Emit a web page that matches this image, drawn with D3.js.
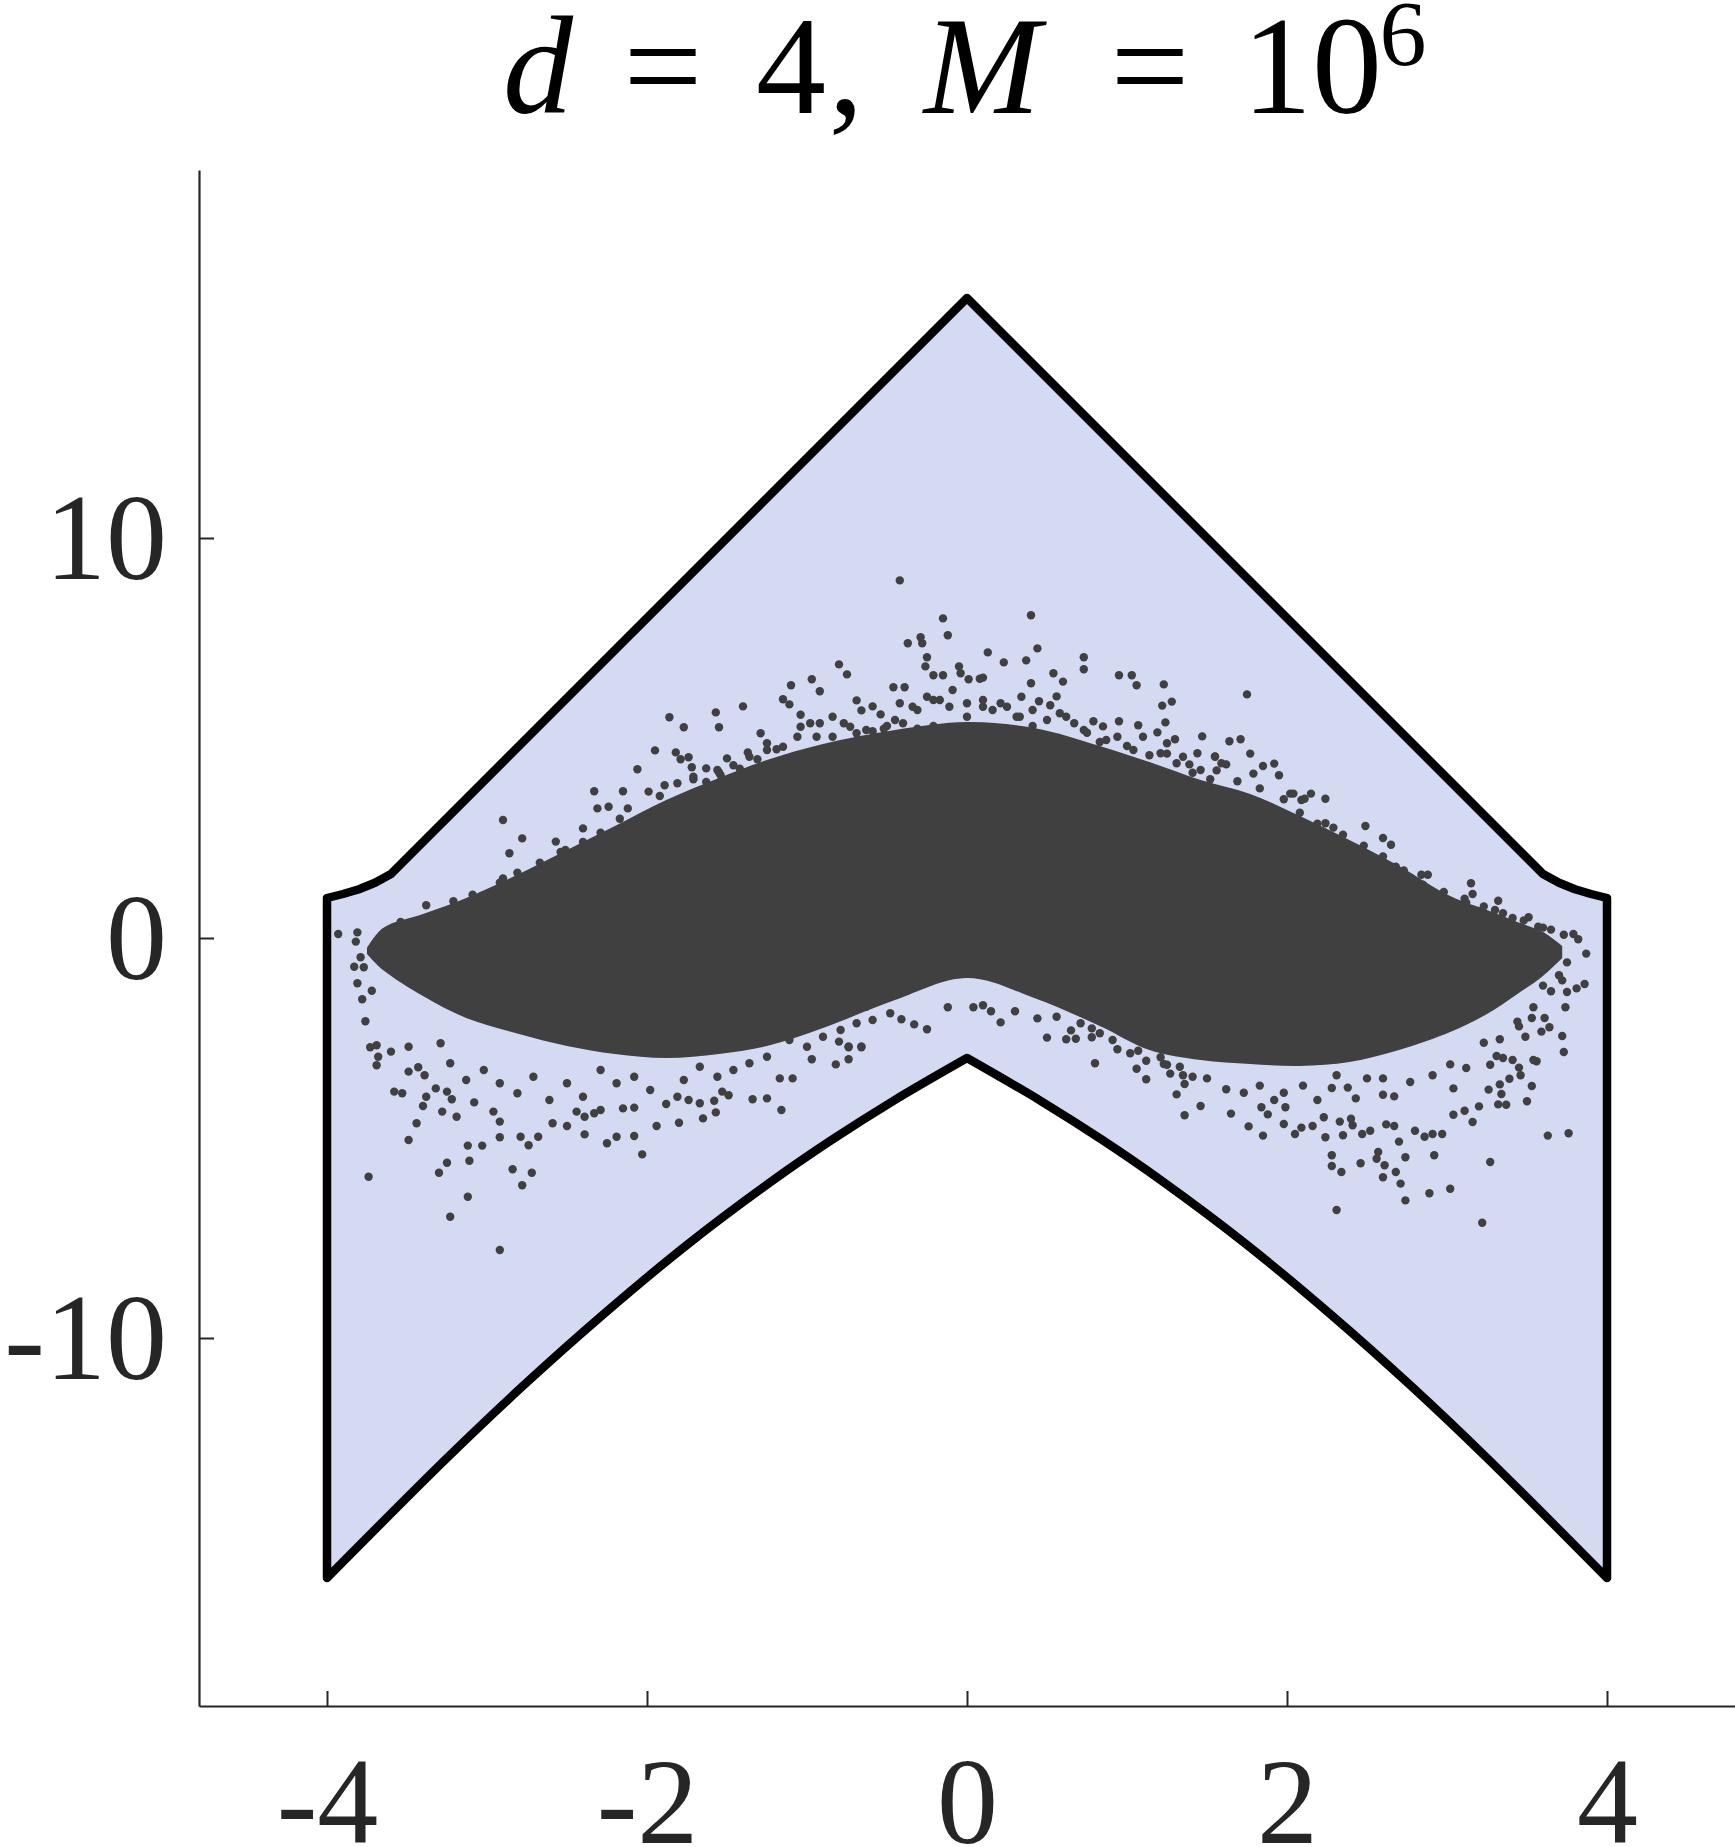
<!DOCTYPE html>
<html>
<head>
<meta charset="utf-8">
<script src="https://cdn.jsdelivr.net/npm/d3@7"></script>
<style>
  html, body { margin: 0; padding: 0; background: #fff; }
  svg { display: block; }
  .lbl { font-family: "Liberation Serif", "Tinos", "Times New Roman", "DejaVu Serif", serif; }
</style>
</head>
<body>
<svg id="chart"></svg>
<script>
// ---- data ----
// outer region: upper edge (left to right) and lower edge (left to right)
const upperX = [-4, -3.9, -3.8, -3.7, -3.6, 0, 3.6, 3.7, 3.8, 3.9, 4];
const upperY = [1.0, 1.1, 1.22, 1.38, 1.6, 16, 1.6, 1.38, 1.22, 1.1, 1.0];
const lowerX = [-4, -3.25, -2.77, -2.27, -1.74, -1.21, -0.85, -0.46, 0, 0.46, 0.85, 1.21, 1.74, 2.27, 2.77, 3.25, 4];
const lowerY = [-16, -13.0, -11.18, -9.4, -7.64, -6.05, -5.06, -4.07, -3.0, -4.07, -5.06, -6.05, -7.64, -9.4, -11.18, -13.0, -16];

// dense core of the sample cloud
const coreX     = [-3.75, -3.65, -3.4, -3.13, -2.8, -2.5, -2.2, -1.88, -1.55, -1.25, -0.9, -0.45, 0, 0.42, 0.83, 1.14, 1.46, 1.77, 2.08, 2.39, 2.7, 3.02, 3.25, 3.44, 3.6, 3.72];
const coreUpper = [-0.25, 0.25, 0.6, 1.0, 1.6, 2.2, 2.8, 3.45, 4.0, 4.45, 4.85, 5.2, 5.4, 5.25, 4.8, 4.4, 3.95, 3.6, 3.05, 2.45, 1.8, 1.05, 0.7, 0.4, 0.15, -0.2];
const coreLower = [-0.4, -0.8, -1.45, -2.0, -2.4, -2.7, -2.9, -3.0, -2.9, -2.7, -2.25, -1.55, -1.0, -1.5, -2.2, -2.8, -3.05, -3.15, -3.2, -3.1, -2.8, -2.35, -1.9, -1.4, -0.95, -0.5];

// individual samples around the core, [x, y]
const dotsLeft = [
  [-3.93,0.1],[-2.90,2.95],[-2.78,2.49],[-2.86,2.12],[-2.33,3.67],[-2.15,3.67],[-2.31,3.24],[-2.24,3.28],[-2.12,3.24],[-2.06,4.22],
  [-1.99,3.66],[-2.0,3.05],[-2.40,2.74],[-2.57,2.41],[-2.51,2.2],[-2.90,1.49],[-3.03,1.06],[-3.81,0.14],[-3.82,-0.09],[-3.79,-0.48],
  [-3.83,-0.72],[-3.77,-0.73],[-3.81,-1.13],[-3.78,-1.53],[-3.76,-2.08],[-3.72,-1.32],[-3.69,-2.68],[-3.73,-2.73],[-3.68,-2.97],[-3.69,-3.18],
  [-3.60,-2.84],[-3.49,-2.72],[-3.49,-3.34],[-3.43,-3.23],[-3.39,-3.43],[-3.58,-3.84],[-3.53,-3.88],[-3.32,-3.76],[-3.25,-3.84],[-3.38,-3.97],
  [-3.40,-4.2],[-3.28,-4.34],[-3.19,-4.47],[-3.22,-4.03],[-3.08,-4.11],[-2.96,-4.34],[-2.92,-4.59],[-3.44,-4.63],[-3.49,-5.05],[-3.12,-5.19],
  [-3.03,-5.19],[-3.25,-5.62],[-3.11,-5.57],[-3.30,-5.87],[-3.74,-5.97],[-3.12,-6.47],[-3.23,-6.97],[-2.92,-7.8],[-2.84,-5.78],[-2.72,-5.87],
  [-2.78,-6.18],[-2.92,-4.98],[-2.79,-4.97],[-2.68,-4.97],[-2.74,-5.18],[-2.59,-4.63],[-2.50,-4.7],[-2.39,-4.91],[-2.25,-5.13],[-2.19,-4.97],
  [-2.08,-4.95],[-2.03,-5.41],[-1.94,-4.7],[-1.80,-4.62],[-1.88,-4.15],[-1.81,-3.97],[-1.74,-4.05],[-1.67,-4.13],[-1.65,-4.51],[-1.57,-4.36],
  [-1.58,-4.07],[-1.34,-4.03],[-1.25,-4.01],[-1.16,-4.3],[-1.17,-3.51],[-1.09,-3.51],[-1.49,-3.93],[-1.53,-3.84],[-2.29,-4.3],[-2.15,-4.26],
  [-2.08,-4.24],[-2.39,-4.47],[-2.44,-4.34],[-2.33,-4.38],
  [-3.29,-2.63],[-3.23,-3.13],[-3.13,-3.55],[-3.02,-3.3],[-2.92,-3.63],[-2.81,-3.88],[-2.71,-3.47],[-2.61,-4.05],[-2.50,-3.63],[-2.40,-3.97],
  [-2.29,-3.3],[-2.19,-3.63],[-2.08,-3.47],[-1.98,-3.8],[-1.77,-3.55],[-1.67,-3.22],[-1.56,-3.47],[-1.46,-3.3],[-1.36,-3.13],[-1.25,-2.97],
  [-3.54,0.4],[-3.38,0.82],[-3.21,0.92],[-3.09,1.08],[-2.92,1.38],[-2.81,1.63],[-2.67,1.88],[-2.54,2.15],[-2.40,2.4],[-2.29,2.63],
  [-2.17,2.98],[-2.08,2.82],[-1.92,3.55],[-1.81,3.87],[-1.71,4.03],[-1.56,4.2],[-1.46,4.32],[-1.36,4.53],[-1.19,4.72],[-1.63,3.9],
  [-1.86,5.52],[-1.77,5.27],[-1.57,5.64],[-1.55,5.27],[-1.40,5.79],[-1.95,4.69],[-1.82,4.64],[-1.74,4.52],[-1.79,4.47],[-1.50,4.49],
  [-1.37,4.64],[-1.72,4.27],[-1.63,4.24],[-1.71,3.97],[-1.55,4.14],[-1.89,3.82],
  [-0.97,-3.03],[-0.82,-3.16],[-0.74,-3.03],[-0.66,-2.73],[-0.74,-2.73],[-0.80,-2.59],[-1.11,-2.55],[-1.00,-2.72],[-0.90,-2.47],[-0.79,-2.3],
  [-0.69,-2.13],[-0.59,-2.05],[-0.48,-1.88],[-1.04,-2.05],[-0.92,-2.05],[-0.63,-1.72]
];

const dotsCenter = [
  [-0.42,8.94],[-0.15,7.99],[-0.12,7.57],[0.40,8.07],[0.44,7.24],[-0.37,7.37],[-0.29,7.52],[-0.28,7.37],[-0.25,7.02],[-0.26,6.79],
  [-0.21,6.57],[-0.15,6.57],[-0.05,6.79],[-0.04,6.62],[0.01,6.47],[0.13,7.14],[0.23,6.89],[0.37,6.94],[0.40,6.37],[0.73,7.02],
  [0.73,6.72],[0.54,6.62],[0.60,6.41],[0.95,6.57],[1.03,6.57],[1.06,6.32],[1.23,6.34],[1.22,5.81],[1.28,5.91],[1.24,5.39],
  [1.47,5.04],[-0.80,6.84],[-0.75,6.59],[-0.97,6.47],[-0.92,6.17],[-1.10,6.32],[-1.15,5.97],[-1.11,5.84],[-1.29,5.12],[-0.59,5.79],
  [-0.69,5.94],[-0.66,5.69],[-0.46,6.27],[-0.39,6.27],[-0.42,5.87],[-0.45,5.45],[-0.54,5.59],[0.08,6.48],[0.10,6.51],[0.34,6.03],
  [0.45,5.92],[0.52,5.82],[0.56,6.04],[0.79,5.42],[0.85,5.29],[0.95,5.42],[1.07,5.32],[1.19,5.14],[1.30,4.97],[1.44,4.62],[1.55,4.53],
  [0.21,-2.11],[-0.25,-2.28],[-0.12,-1.73],[0.50,-2.49],[0.62,-2.53],[0.68,-2.52],[0.15,-1.83],[0.30,-1.83],[0.04,-1.73],[0.10,-1.68],
  [-0.33,-2.16],[-0.41,-2.03],[-0.74,-2.71],[-0.66,-2.71],[0.44,-2.01],[0.65,-2.31],[0.78,-2.26],
  [-1.25,4.87],[-1.04,5.28],[-0.94,5.03],[-0.84,5.53],[-0.73,5.28],[-0.63,5.2],[-0.52,5.23],[-0.31,5.7],[-0.21,5.95],[-0.11,5.78],
  [0.0,5.53],[0.10,5.78],[0.21,5.87],[0.31,5.53],[0.41,5.7],[0.62,5.53],[0.73,5.2],[0.94,5.03],[1.04,4.7],[1.25,4.87],
  [1.35,4.53],[1.46,4.2],[1.14,4.57],[0.83,4.9],[-0.21,5.3],[-0.31,5.23],
  [-1.04,5.58],[-0.98,5.37],[-0.92,5.37],[-1.06,5.03],[-1.15,4.78],[-1.25,4.7],[-1.31,4.47],[-1.42,4.23],[-1.54,4.07],[-0.84,5.03],
  [-0.77,5.37],[-0.69,5.12],[-0.59,5.17],[-0.50,5.3],[-0.40,5.37],[-0.34,5.78],[-0.25,6.03],[-0.17,5.95],[-0.09,6.2],[0.0,5.87],
  [0.10,5.95],[0.16,5.7],[0.25,5.78],[0.33,5.53],[0.41,5.3],[0.50,5.45],[0.58,5.62],[0.67,5.37],[0.75,5.13],[0.87,4.95],
  [1.00,4.8],[1.10,5.03],[1.21,4.62],[1.31,4.37],[1.41,4.13],[1.52,3.97],
  [0.80,-3.13],[1.06,-3.27],[1.12,-3.53],[1.36,-3.65],[0.94,-2.78],[1.07,-2.82],[1.25,-3.17],[0.78,-2.48],[0.91,-2.55],[1.02,-2.88],
  [1.12,-3.07],[1.23,-3.15],[1.33,-3.22],[1.41,-3.47],[0.83,-2.38],[0.71,-2.13],[0.56,-1.97]
];

const dotsRight = [
  [1.75,6.09],
  [1.64,4.92],[1.71,4.97],[1.77,4.61],[1.55,4.54],[1.59,4.37],[1.62,4.34],[1.85,4.30],[1.92,4.36],[1.95,4.07],[1.79,4.11],
  [2.02,3.61],[2.04,3.61],[2.15,3.61],[2.24,3.48],[2.11,3.48],[2.09,3.45],[2.24,2.87],[2.29,2.76],[2.49,2.8],[2.60,2.5],
  [2.65,2.33],[2.68,1.78],[2.84,1.58],[2.88,1.58],[3.15,1.37],[3.16,1.10],[3.11,0.98],[3.32,0.93],[3.30,0.70],[3.51,0.52],
  [3.41,0.50],[3.57,0.28],[3.65,0.21],[3.79,0.10],[3.82,-0.03],[3.87,-0.39],[3.75,-0.61],[3.70,-0.93],[3.72,-1.06],[3.81,-1.26],
  [3.86,-1.15],[3.75,-1.35],[3.74,-1.73],[3.65,-1.33],[3.72,-2.45],[3.73,-2.85],[3.64,-2.23],[3.59,-2.34],[3.56,-3.08],[3.53,-3.70],
  [3.50,-4.08],[3.61,-2.0],[3.53,-2.0],[3.45,-2.21],[3.49,-2.47],[3.27,-5.6],[3.63,-4.94],[3.76,-4.88],[3.22,-7.12],[3.02,-6.27],
  [2.89,-6.38],[2.74,-6.56],[2.31,-6.8],[2.28,-5.43],[2.28,-5.7],[2.34,-5.85],[2.46,-5.63],[2.57,-5.35],[2.56,-5.52],[2.61,-5.68],
  [2.60,-5.98],[2.68,-5.85],[2.74,-5.48],[2.71,-6.14],[2.92,-5.43],[2.97,-4.9],[2.91,-4.9],[2.86,-4.97],[2.80,-4.82],[2.70,-5.09],
  [2.67,-4.70],[2.62,-4.66],[2.52,-4.82],[2.47,-4.9],[2.35,-4.93],[2.33,-4.59],[2.40,-4.52],[2.41,-4.68],[2.24,-4.98],[2.16,-4.70],
  [2.09,-4.74],[2.05,-4.9],[1.98,-4.65],[1.85,-4.94],[1.76,-4.71],[1.65,-4.39],[1.46,-4.2],[1.36,-4.43],[1.31,-3.91],[1.27,-3.39],
  [1.88,-4.41],[1.84,-4.23],[1.92,-4.05],[1.99,-4.23],[2.23,-4.48],[2.28,-3.75],[2.38,-3.74],[2.43,-4.01],[2.60,-3.92],[2.67,-3.96],
  [3.04,-3.76],[3.16,-4.6],[3.20,-4.21],[3.11,-4.32],[3.04,-4.42],[3.32,-4.16],[3.37,-4.17],[3.34,-3.9],[3.26,-3.79],[3.33,-3.66],
  [3.39,-3.52],[3.46,-3.43],[3.54,-3.05],[3.45,-3.24],[3.41,-3.05],[3.35,-3.0],[3.31,-2.95],[3.27,-3.17],
  [1.21,-2.98],[1.35,-3.43],[1.50,-3.51],[1.62,-3.78],[1.73,-3.87],[1.83,-3.69],[1.98,-3.87],[2.10,-3.69],[2.19,-4.05],[2.31,-3.43],
  [2.50,-3.51],[2.60,-3.51],[2.77,-3.6],[2.91,-3.43],[3.02,-3.16],[3.12,-3.25],[3.23,-2.62],[3.33,-2.53],[3.44,-2.09],[3.54,-1.73],[3.60,-1.19],
  [1.25,4.61],[1.39,4.34],[1.56,4.19],[1.69,3.92],[1.83,3.74],[1.98,3.47],[2.08,3.13],[2.19,2.86],[2.35,2.58],[2.48,2.31],
  [2.60,2.04],[2.73,1.69],[2.85,1.33],[2.98,1.15],[3.12,0.88],[3.23,0.79],[3.35,0.62],[3.48,0.44],[3.60,0.26],[3.73,0.08]
];

const xTicks = [-4, -2, 0, 2, 4];
const yTicks = [-10, 0, 10];

// ---- layout ----
const width = 1735, height = 1847;
const fillColor = "#d5daf3";
const dotColor = "#404040";
const axisColor = "#262626";

const svg = d3.select("#chart").attr("width", width).attr("height", height);
svg.append("rect").attr("width", width).attr("height", height).attr("fill", "#fff");

const x = d3.scaleLinear().domain([-4.8, 4.8]).range([199, 1735]);
const y = d3.scaleLinear().domain([-19.2, 19.2]).range([1706, 170]);

// region outline: straight upper edge, smooth lower edge on each side of the apex
const straight = d3.line().x(d => x(d[0])).y(d => y(d[1]));
const smooth = d3.line().x(d => x(d[0])).y(d => y(d[1])).curve(d3.curveCatmullRom);

const upperPts = upperX.map((v, i) => [v, upperY[i]]);
const lowerPts = lowerX.map((v, i) => [v, lowerY[i]]);
const apex = lowerX.indexOf(0);
const lowerRight = lowerPts.slice(apex).reverse();     // from x=4 back to the apex
const lowerLeft = lowerPts.slice(0, apex + 1).reverse(); // from the apex back to x=-4

const regionPath = straight(upperPts)
  + smooth(lowerRight).replace(/^M/, "L")
  + smooth(lowerLeft).replace(/^M/, "L")
  + "Z";

svg.append("path")
  .attr("d", regionPath)
  .attr("fill", fillColor)
  .attr("stroke", "none");

// dense core of the cloud
const coreArea = d3.area()
  .x(i => x(coreX[i]))
  .y0(i => y(coreLower[i]))
  .y1(i => y(coreUpper[i]))
  .curve(d3.curveCatmullRom);

svg.append("path")
  .attr("d", coreArea(d3.range(coreX.length)))
  .attr("fill", dotColor);

// loose samples
const allDots = dotsLeft.concat(dotsCenter, dotsRight);
svg.append("g")
  .selectAll("circle")
  .data(allDots)
  .join("circle")
  .attr("cx", d => x(d[0]))
  .attr("cy", d => y(d[1]))
  .attr("r", 4.2)
  .attr("fill", dotColor);

// outline on top
svg.append("path")
  .attr("d", regionPath)
  .attr("fill", "none")
  .attr("stroke", "#000")
  .attr("stroke-width", 8.5)
  .attr("stroke-linejoin", "round");

// ---- axes (ticks point inward) ----
const yAxis = d3.axisLeft(y)
  .tickValues(yTicks)
  .tickSizeInner(-15)
  .tickSizeOuter(0)
  .tickPadding(32)
  .tickFormat(d => String(d));

const gy = svg.append("g")
  .attr("transform", `translate(${x.range()[0]},0)`)
  .call(yAxis);

const xAxis = d3.axisBottom(x)
  .tickValues(xTicks)
  .tickSizeInner(-15)
  .tickSizeOuter(0)
  .tickFormat(d => String(d));

const gx = svg.append("g")
  .attr("transform", `translate(0,${y.range()[0]})`)
  .call(xAxis);

[gx, gy].forEach(g => {
  g.attr("font-family", null).attr("font-size", null);
  g.select(".domain").attr("stroke", axisColor).attr("stroke-width", 2.2);
  g.selectAll(".tick line").attr("stroke", axisColor).attr("stroke-width", 2);
  g.selectAll(".tick text")
    .attr("class", "lbl")
    .attr("fill", axisColor)
    .style("font-size", "122px");
});
gy.selectAll(".tick text").attr("dy", "0.33em");
gx.selectAll(".tick text").attr("y", 137).attr("dy", 0);

// ---- title: d = 4, M = 10^6 ----
const titlePieces = [
  { t: "d", cx: 538, italic: true, size: 140, base: 113 },
  { t: "=", cx: 663, size: 140, base: 113 },
  { t: "4", cx: 791, size: 140, base: 113 },
  { t: ",", cx: 846, size: 140, base: 113 },
  { t: "M", cx: 982, italic: true, size: 140, base: 113 },
  { t: "=", cx: 1150, size: 140, base: 113 },
  { t: "10", cx: 1312, size: 140, base: 113 },
  { t: "6", cx: 1403, size: 94, base: 65 }
];
svg.append("g")
  .selectAll("text")
  .data(titlePieces)
  .join("text")
  .attr("class", "lbl")
  .attr("x", d => d.cx)
  .attr("y", d => d.base)
  .attr("text-anchor", "middle")
  .attr("fill", "#000")
  .style("font-style", d => d.italic ? "italic" : "normal")
  .style("font-size", d => d.size + "px")
  .text(d => d.t);
</script>
</body>
</html>
